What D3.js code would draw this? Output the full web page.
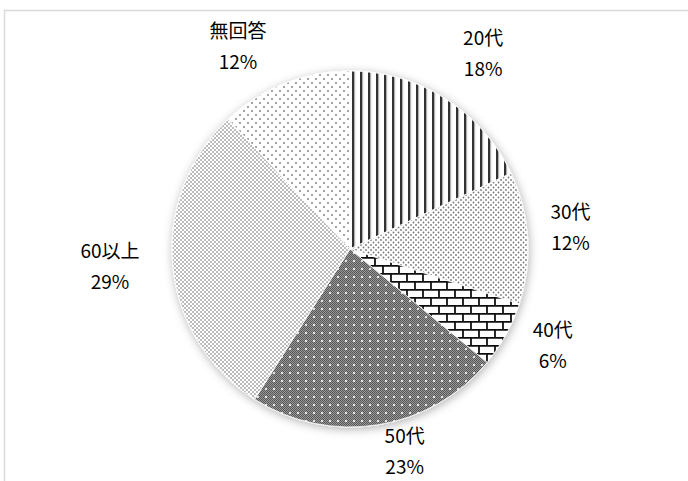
<!DOCTYPE html>
<html lang="ja">
<head>
<meta charset="utf-8">
<script src="https://cdn.jsdelivr.net/npm/d3@7"></script>
<style>
body { margin: 0; background: #fff; }
text { font-family: "Noto Sans CJK JP", sans-serif; font-size: 19px; fill: #000; }
</style>
</head>
<body>
<script>
// chart data
var categories = ["20代", "30代", "40代", "50代", "60以上", "無回答"];
var percents = [18, 12, 6, 23, 29, 12];
var patternIds = ["vstripe", "dots5", "brick", "darkdots", "densedots", "sparsedots"];
// small hand nudges for the outside labels (px)
var labelNudge = [[11, -2], [-7, -7], [3, -13], [19, -22], [-13, -3], [-28, 10]];

var width = 688, height = 481;
var cx = 350, cy = 249, radius = 178;

var svg = d3.select("body").append("svg")
  .attr("width", width)
  .attr("height", height);

var defs = svg.append("defs");

// soft shadow round the pie
var f = defs.append("filter").attr("id", "shadow")
  .attr("x", "-20%").attr("y", "-20%").attr("width", "140%").attr("height", "140%");
f.append("feDropShadow").attr("dx", 1).attr("dy", 2).attr("stdDeviation", 5)
  .attr("flood-color", "#000").attr("flood-opacity", 0.3);

function pat(id, w, h) {
  return defs.append("pattern").attr("id", id)
    .attr("patternUnits", "userSpaceOnUse")
    .attr("width", w).attr("height", h);
}

// vertical stripes
var p = pat("vstripe", 8, 8);
p.append("rect").attr("width", 8).attr("height", 8).attr("fill", "#fff");
p.append("rect").attr("x", 2).attr("width", 2.2).attr("height", 8).attr("fill", "#333");
p.append("rect").attr("x", 4.2).attr("width", 1).attr("height", 8).attr("fill", "#aaa");

// small dots, offset rows
p = pat("dots5", 5, 5);
p.append("rect").attr("width", 5).attr("height", 5).attr("fill", "#fff");
p.append("circle").attr("cx", 1).attr("cy", 1).attr("r", 0.9).attr("fill", "#777");
p.append("circle").attr("cx", 3.5).attr("cy", 3.5).attr("r", 0.9).attr("fill", "#777");

// bricks
p = pat("brick", 16, 16);
p.append("rect").attr("width", 16).attr("height", 16).attr("fill", "#fff");
p.append("path")
  .attr("d", "M0,0.8H16M0,8.8H16M1,0V8M9,8V16")
  .attr("stroke", "#111").attr("stroke-width", 1.8).attr("fill", "none");

// dark checker with white dots
p = pat("darkdots", 8, 8);
p.append("rect").attr("width", 8).attr("height", 8).attr("fill", "#555");
for (var i = 0; i < 8; i++) {
  for (var j = 0; j < 8; j++) {
    if ((i + j) % 2 === 0) p.append("rect").attr("x", i).attr("y", j).attr("width", 1).attr("height", 1).attr("fill", "#9a9a9a");
  }
}
p.append("circle").attr("cx", 4).attr("cy", 4).attr("r", 1.1).attr("fill", "#fff");

// dense dots
p = pat("densedots", 4, 4);
p.append("rect").attr("width", 4).attr("height", 4).attr("fill", "#fff");
p.append("circle").attr("cx", 1).attr("cy", 1).attr("r", 0.8).attr("fill", "#666");
p.append("circle").attr("cx", 3).attr("cy", 3).attr("r", 0.8).attr("fill", "#666");

// sparse dots
p = pat("sparsedots", 8, 8);
p.append("rect").attr("width", 8).attr("height", 8).attr("fill", "#fff");
p.append("circle").attr("cx", 2).attr("cy", 2).attr("r", 0.9).attr("fill", "#777");
p.append("circle").attr("cx", 6).attr("cy", 6).attr("r", 0.9).attr("fill", "#777");

// chart frame
svg.append("rect")
  .attr("x", 4.5).attr("y", 10.5)
  .attr("width", 720).attr("height", 520)
  .attr("fill", "#fff").attr("stroke", "#d9d9d9").attr("stroke-width", 1.5);

var data = categories.map(function(c, i) { return { name: c, value: percents[i], pid: patternIds[i], nudge: labelNudge[i] }; });

var pie = d3.pie().sort(null).value(function(d) { return d.value; });
var arc = d3.arc().innerRadius(0).outerRadius(radius);
var labelArc = d3.arc().innerRadius(228).outerRadius(228);

var g = svg.append("g").attr("transform", "translate(" + cx + "," + cy + ")");

var arcs = pie(data);

g.append("g").attr("filter", "url(#shadow)")
  .selectAll("path")
  .data(arcs)
  .enter()
  .append("path")
  .attr("d", arc)
  .attr("fill", function(d) { return "url(#" + d.data.pid + ")"; })
  .attr("stroke", "#fff")
  .attr("stroke-width", 0.8);

var lbl = g.selectAll("text.lbl")
  .data(arcs)
  .enter()
  .append("text")
  .attr("class", "lbl")
  .attr("text-anchor", "middle")
  .attr("transform", function(d) {
    var c = labelArc.centroid(d);
    return "translate(" + (c[0] + d.data.nudge[0]) + "," + (c[1] + d.data.nudge[1]) + ")";
  });
lbl.append("tspan").attr("x", 0).attr("y", -9).text(function(d) { return d.data.name; });
lbl.append("tspan").attr("x", 0).attr("y", 22).text(function(d) { return d.data.value + "%"; });
</script>
</body>
</html>
